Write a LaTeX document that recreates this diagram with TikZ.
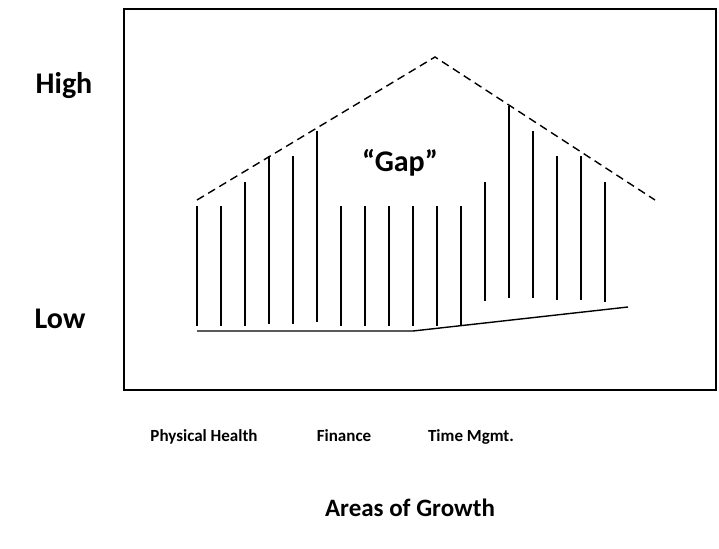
\documentclass[tikz,border=0pt]{standalone}
\usepackage{fontspec}
\setmainfont{Carlito}
\usetikzlibrary{positioning}
\tikzset{
	% lines
	frame/.style={line width=1.5pt},
	bar/.style={line width=1.4pt},
	gapline/.style={line width=1.4pt,dash pattern=on 8pt off 5pt},
	% text
	axislabel/.style={font=\bfseries\fontsize{30}{34}\selectfont,inner sep=0pt},
	arealabel/.style={font=\bfseries\fontsize{17}{20}\selectfont,inner sep=0pt,anchor=base},
	titlelabel/.style={font=\bfseries\fontsize{25}{30}\selectfont,inner sep=0pt},
}

\begin{document}
\begin{tikzpicture}[x=1pt,y=-1pt]
	\useasboundingbox (0,0) rectangle (719,548);
	\draw[frame] (124,9) rectangle (716,390);
	
	\draw[gapline] (197,200) -- (435,57) -- (655,200);
	
	\draw[bar] (197,206) -- (197,326);
	\draw[bar] (221,206) -- (221,326);
	\draw[bar] (245,182) -- (245,326);
	\draw[bar] (269,156) -- (269,324);
	\draw[bar] (293,156) -- (293,324);
	\draw[bar] (317,131) -- (317,322);
	
	\draw[bar] (341,206) -- (341,326);
	\draw[bar] (365,206) -- (365,326);
	\draw[bar] (389,206) -- (389,326);
	\draw[bar] (413,206) -- (413,326);
	\draw[bar] (437,206) -- (437,326);
	\draw[bar] (461,206) -- (461,326);
	
	\draw[bar] (485,182) -- (485,301);
	\draw[bar] (509,106) -- (509,298);
	\draw[bar] (533,131) -- (533,298);
	\draw[bar] (557,156) -- (557,300);
	\draw[bar] (581,156) -- (581,300);
	\draw[bar] (605,182) -- (605,302);
	
	\draw[bar] (197,331) -- (413,331) -- (628,307);
	
	\node[axislabel] (high) at (64,86) {High};
	\node[axislabel] (low) at (60,319) {Low};
	\node[axislabel] (gap) at (400,163) {“Gap”};
	
	\node[arealabel] (health) at (204,441) {Physical Health};
	\node[arealabel] (finance) at (344,441) {Finance};
	\node[arealabel] (time) at (471,441) {Time Mgmt.};
	\node[titlelabel] (areas) at (410,508) {Areas of Growth};
\end{tikzpicture}
\end{document}
